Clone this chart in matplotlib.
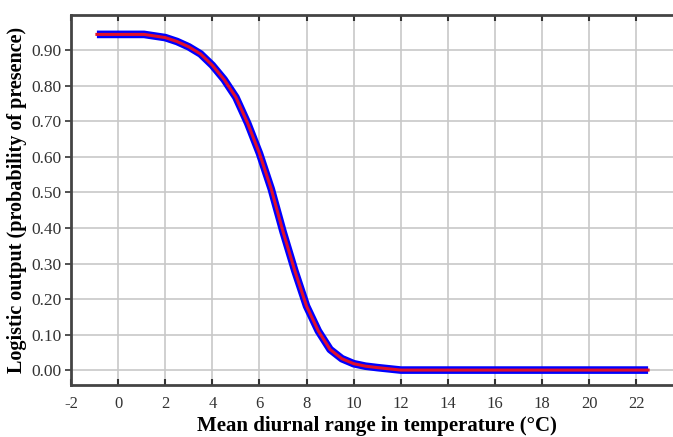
import matplotlib
matplotlib.use('Agg')
import matplotlib.pyplot as plt

# values
temp = [-0.9, 1.1, 2.0, 2.5, 3.0, 3.5, 4.0, 4.5, 5.0, 5.5, 6.0, 6.5, 7.0, 7.5,
        8.0, 8.5, 9.0, 9.5, 10.0, 10.5, 11.0, 12.0, 22.5]
prob = [0.945, 0.945, 0.936, 0.925, 0.91, 0.89, 0.858, 0.818, 0.768, 0.695, 0.61,
        0.51, 0.39, 0.28, 0.18, 0.11, 0.058, 0.032, 0.018, 0.011, 0.007, 0.0, 0.0]

xticks = list(range(-2, 24, 2))
yticks = [0.0, 0.1, 0.2, 0.3, 0.4, 0.5, 0.6, 0.7, 0.8, 0.9]

plt.rcParams['font.family'] = ['Liberation Serif', 'DejaVu Serif']
plt.rcParams['axes.unicode_minus'] = False

fig = plt.figure(figsize=(6.73, 4.37), dpi=100)
ax = fig.add_axes([0.1055, 0.119, 0.91, 0.847])

ax.plot(temp, prob, color='#0000ff', lw=5.5, solid_capstyle='butt', zorder=3)
ax.plot(temp, prob, color='#e0102a', lw=2.2, zorder=4)

ax.set_xlim(-2, 24)
ax.set_ylim(-0.042, 1.0)
ax.set_xticks(xticks)
ax.set_yticks(yticks)
ax.set_yticklabels(['%.2f' % v for v in yticks])

ax.grid(True, color='#c8c8c8', lw=1.2)
ax.set_axisbelow(True)

for s in ax.spines.values():
    s.set_color('#444444')
    s.set_linewidth(2)

ax.tick_params(axis='x', direction='in', top=True, bottom=True, length=4,
               width=1.5, color='#333333', labelsize=12, labelcolor='#333333', pad=8)
ax.tick_params(axis='y', direction='out', length=4, width=1.2,
               color='#333333', labelsize=12.5, labelcolor='#333333', pad=3)

ax.set_xlabel('Mean diurnal range in temperature (°C)', fontsize=15,
              fontweight='bold', labelpad=3)
ax.set_ylabel('Logistic output (probability of presence)', fontsize=14.5,
              fontweight='bold', labelpad=3)

fig.savefig('out.png', dpi=100)
